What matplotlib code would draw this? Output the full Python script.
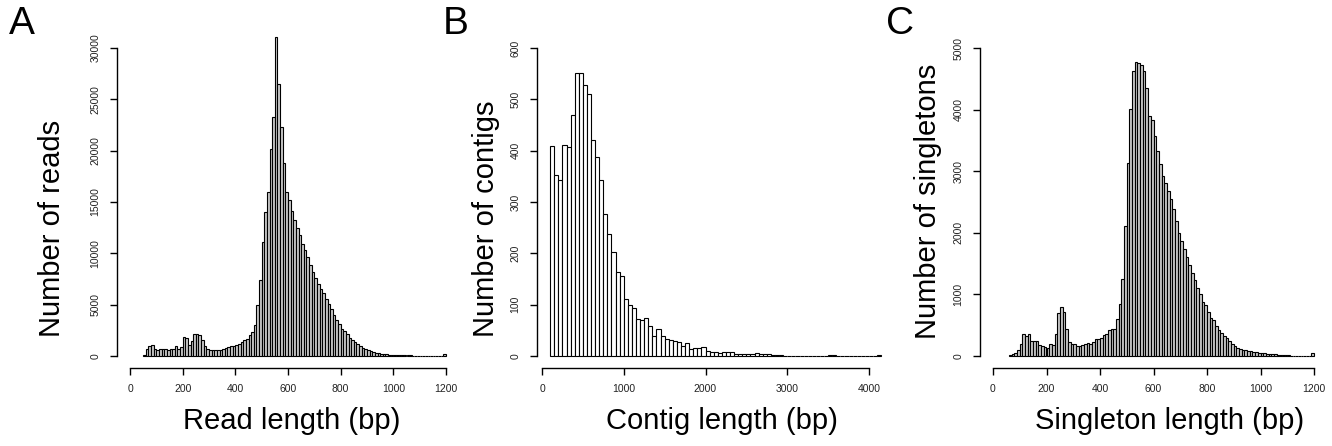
# =============================================================================
# HISTOGRAMAS DE LONGITUD (reads / contigs / singletons)
# =============================================================================
import numpy as np
import matplotlib
matplotlib.use("Agg")
import matplotlib.pyplot as plt

# =============================================================================
# DATOS
# =============================================================================

# Panel A: reads, bins de 10 bp desde 50
READS_START = 50
READS_BIN = 10
reads_counts = [
    100, 700, 1000, 1100, 650, 600, 700, 650, 650, 600,
    650, 700, 1000, 700, 850, 1850, 1800, 1050, 1450, 2150,
    2150, 2000, 1550, 1000, 700, 550, 550, 550, 550, 600,
    700, 800, 900, 1000, 1000, 1100, 1200, 1350, 1550, 1700,
    2000, 2350, 3050, 4950, 7450, 11100, 14000, 15950, 20200, 23300,
    31100, 26500, 22350, 18800, 16000, 15200, 14150, 13250, 12500, 11800,
    10950, 10300, 9600, 8900, 8200, 7600, 7050, 6550, 6100, 5600,
    5100, 4600, 3950, 3500, 3150, 2650, 2400, 2100, 1750, 1550,
    1350, 1150, 950, 800, 650, 550, 450, 400, 330, 260,
    230, 200, 160, 130, 120, 100, 90, 80, 70, 60,
    55, 50, 45, 40, 35, 30, 30, 25, 25, 20,
    20, 20, 15, 15, 150,
]

# Panel B: contigs, bins de 50 bp desde 100
CONTIGS_START = 100
CONTIGS_BIN = 50
contigs_counts = [
    410, 352, 343, 411, 408, 469, 551, 552, 528, 510,
    420, 388, 342, 276, 237, 203, 164, 155, 111, 99,
    93, 73, 70, 74, 58, 39, 52, 38, 33, 31,
    30, 28, 20, 25, 13, 16, 15, 17, 10, 8,
    8, 6, 7, 8, 7, 4, 3, 4, 3, 3,
    5, 4, 3, 4, 1, 2, 1, 0, 0, 0,
    0, 0, 0, 0, 0, 0, 0, 0, 2, 2,
    0, 0, 0, 0, 0, 0, 0, 0, 0, 0,
    2,
]

# Panel C: singletons, bins de 10 bp desde 60
SINGLE_START = 60
SINGLE_BIN = 10
singleton_counts = [
    10, 27, 50, 90, 200, 350, 325, 350, 245, 245,
    245, 175, 165, 145, 135, 200, 175, 365, 705, 800,
    715, 445, 230, 200, 190, 170, 170, 175, 190, 210,
    200, 230, 280, 275, 300, 335, 365, 420, 435, 445,
    605, 840, 1250, 2115, 3130, 4010, 4630, 4770, 4760, 4720,
    4630, 4350, 3890, 3830, 3575, 3320, 3120, 2930, 2815, 2685,
    2545, 2385, 2190, 1990, 1860, 1745, 1610, 1485, 1350, 1230,
    1105, 1005, 870, 825, 715, 620, 580, 490, 430, 375,
    320, 290, 245, 190, 165, 130, 120, 90, 100, 80,
    80, 65, 60, 55, 50, 45, 40, 35, 30, 25,
    20, 18, 15, 12, 10, 8, 8, 6, 6, 5,
    5, 5, 5, 55,
]

reads_xticks = [0, 200, 400, 600, 800, 1000, 1200]
reads_yticks = [0, 5000, 10000, 15000, 20000, 25000, 30000]
contigs_xticks = [0, 1000, 2000, 3000, 4000]
contigs_yticks = [0, 100, 200, 300, 400, 500, 600]
single_xticks = [0, 200, 400, 600, 800, 1000, 1200]
single_yticks = [0, 1000, 2000, 3000, 4000, 5000]

# =============================================================================
# CONFIGURACIÓN
# =============================================================================
W, H = 1332, 446
plt.rcParams["font.family"] = ["Liberation Sans", "DejaVu Sans"]

fig = plt.figure(figsize=(W / 100, H / 100), dpi=100)


def panel(counts, start, binw, xlim, ylim, x0px, x1px, xmax_tick, y0px, y1px,
          ymax_tick, xticks, yticks, color, xlabel, ylabel, xlab_px, ylab_px,
          letter, letter_px):
    counts = np.asarray(counts, dtype=float)
    edges = start + binw * np.arange(len(counts))

    # mapeo pixel <-> datos (x0px = valor 0, x1px = xmax_tick)
    sx = (x1px - x0px) / xmax_tick
    sy = (y0px - y1px) / ymax_tick
    left = x0px + xlim[0] * sx
    right = x0px + xlim[1] * sx
    bottom = y0px - ylim[0] * sy
    top = y0px - ylim[1] * sy

    ax = fig.add_axes([left / W, 1 - bottom / H, (right - left) / W,
                       (bottom - top) / H])
    ax.bar(edges, counts, width=binw, align="edge", color=color,
           edgecolor="black", linewidth=0.8)
    ax.set_xlim(*xlim)
    ax.set_ylim(*ylim)

    for s in ["top", "right"]:
        ax.spines[s].set_visible(False)
    ax.spines["left"].set_bounds(yticks[0], yticks[-1])
    ax.spines["bottom"].set_bounds(xticks[0], xticks[-1])
    for s in ["left", "bottom"]:
        ax.spines[s].set_linewidth(1.0)

    ax.set_xticks(xticks)
    ax.set_yticks(yticks)
    ax.set_xticklabels([str(t) for t in xticks])
    ax.set_yticklabels([str(t) for t in yticks], rotation=90, va="center")
    ax.tick_params(axis="both", direction="out", length=5, width=1.0,
                   labelsize=7.5, labelcolor="#222222")
    ax.tick_params(axis="x", pad=6)
    ax.tick_params(axis="y", pad=7)

    fig.text(xlab_px[0] / W, 1 - xlab_px[1] / H, xlabel, fontsize=21,
             ha="center", va="center")
    fig.text(ylab_px[0] / W, 1 - ylab_px[1] / H, ylabel, fontsize=21,
             ha="center", va="center", rotation=90)
    fig.text(letter_px[0] / W, 1 - letter_px[1] / H, letter, fontsize=28,
             ha="center", va="center")
    return ax


# =============================================================================
# PANELES
# =============================================================================
panel(reads_counts, READS_START, READS_BIN, (-48, 1248), (-1200, 31200),
      130, 446, 1200, 356, 48, 30000, reads_xticks, reads_yticks, "#c8c8c8",
      "Read length (bp)", "Number of reads", (292, 421), (52, 228),
      "A", (22, 24))

panel(contigs_counts, CONTIGS_START, CONTIGS_BIN, (-62, 4312), (-24, 624),
      542, 869, 4000, 356, 48, 600, contigs_xticks, contigs_yticks, "white",
      "Contig length (bp)", "Number of contigs", (722, 421), (486, 219),
      "B", (456, 24))

panel(singleton_counts, SINGLE_START, SINGLE_BIN, (-48, 1248), (-200, 5200),
      993, 1314, 1200, 356, 48, 5000, single_xticks, single_yticks, "#c8c8c8",
      "Singleton length (bp)", "Number of singletons", (1170, 421), (928, 201),
      "C", (900, 24))

fig.savefig("out.png", dpi=100, facecolor="white")
